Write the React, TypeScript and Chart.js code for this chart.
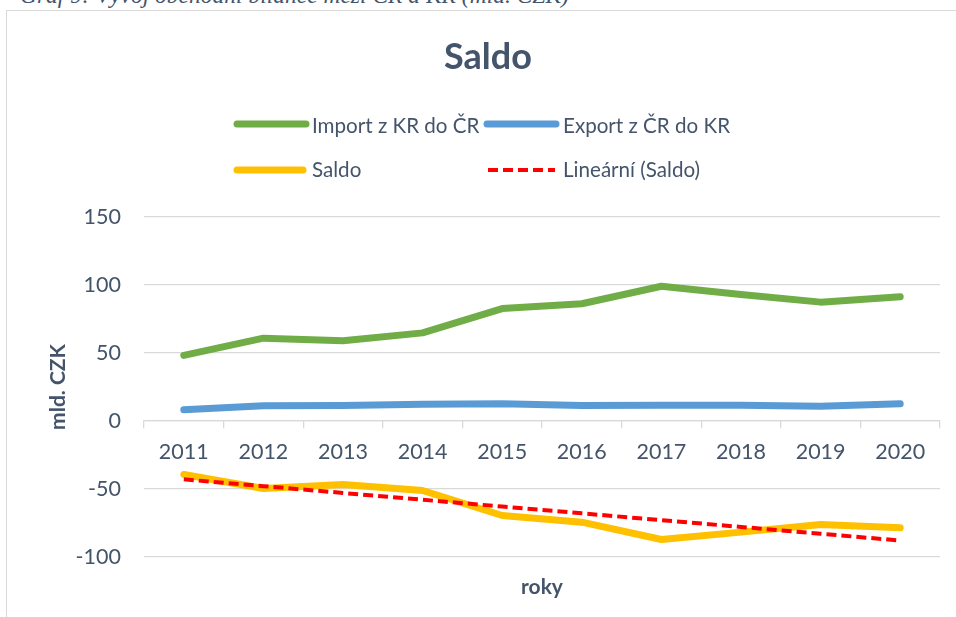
import React, { useEffect, useRef } from "react";
import { Chart, registerables } from "chart.js";

Chart.register(...registerables);

const years = ["2011", "2012", "2013", "2014", "2015", "2016", "2017", "2018", "2019", "2020"];
const importKR = [48.2, 60.9, 59.0, 64.8, 82.7, 86.2, 99.1, 93.0, 87.4, 91.3];
const exportCR = [8.2, 11.2, 11.4, 12.4, 12.6, 11.4, 11.6, 11.6, 10.9, 12.6];
const saldo = [-39.3, -49.6, -46.7, -51.1, -69.5, -74.4, -87.1, -81.7, -76.1, -78.5];
const trendSaldo = [-42.9, -47.9, -52.9, -57.9, -62.9, -67.9, -72.9, -77.9, -82.9, -87.9];
const yTicks = [-100, -50, 0, 50, 100, 150];

const TEXT = "#44546A";
const GRID = "#D9D9D9";
const FONT = "Lato";

const overlayPlugin = {
  id: "overlay",
  afterDraw(chart: any) {
    const ctx = chart.ctx as CanvasRenderingContext2D;
    ctx.save();
    // Title
    ctx.fillStyle = TEXT;
    ctx.font = `bold 36px ${FONT}`;
    ctx.textAlign = "center";
    ctx.textBaseline = "alphabetic";
    ctx.fillText("Saldo", 488, 69);

    // Legend (2 columns x 2 rows)
    const slots = [
      { i: 0, x: 237, y: 124, len: 69, ty: 132.5 },
      { i: 1, x: 487, y: 124, len: 69, ty: 132.5 },
      { i: 2, x: 237, y: 170, len: 66, ty: 176.5 },
      { i: 3, x: 488, y: 170, len: 67, ty: 176.5 },
    ];
    const dsList = chart.data.datasets;
    slots.forEach((s) => {
      const ds = dsList[s.i];
      ctx.save();
      ctx.strokeStyle = ds.borderColor;
      ctx.lineWidth = ds.borderDash ? 4 : 7;
      ctx.lineCap = ds.borderDash ? "butt" : "round";
      if (ds.borderDash) ctx.setLineDash(ds.borderDash);
      ctx.beginPath();
      ctx.moveTo(s.x, s.y);
      ctx.lineTo(s.x + s.len, s.y);
      ctx.stroke();
      ctx.restore();
      ctx.fillStyle = TEXT;
      ctx.font = `20.6px ${FONT}`;
      ctx.textAlign = "left";
      ctx.textBaseline = "alphabetic";
      ctx.fillText(ds.label, s.i % 2 === 0 ? 312 : 563, s.ty);
    });

    // X axis title
    ctx.font = `bold 21px ${FONT}`;
    ctx.textAlign = "center";
    ctx.textBaseline = "middle";
    ctx.fillText("roky", (chart.chartArea.left + chart.chartArea.right) / 2, 587);
    ctx.restore();
  },
};

export default function App() {
  const ref = useRef<HTMLCanvasElement | null>(null);

  useEffect(() => {
    if (!ref.current) return;
    const chart = new Chart(ref.current, {
      type: "line",
      data: {
        labels: years,
        datasets: [
          {
            label: "Import z KR do ČR",
            data: importKR,
            borderColor: "#70AD47",
            backgroundColor: "#70AD47",
            borderWidth: 7,
            order: 3,
          },
          {
            label: "Export z ČR do KR",
            data: exportCR,
            borderColor: "#5B9BD5",
            backgroundColor: "#5B9BD5",
            borderWidth: 7,
            order: 2,
          },
          {
            label: "Saldo",
            data: saldo,
            borderColor: "#FFC000",
            backgroundColor: "#FFC000",
            borderWidth: 7,
            order: 1,
          },
          {
            label: "Lineární (Saldo)",
            data: trendSaldo,
            borderColor: "#FF0000",
            backgroundColor: "#FF0000",
            borderWidth: 4,
            borderDash: [10, 5],
            borderCapStyle: "butt",
            order: 0,
          },
        ] as any,
      },
      options: {
        animation: false,
        responsive: false,
        maintainAspectRatio: false,
        layout: { padding: { left: 42, right: 16, top: 217, bottom: 60 } },
        elements: {
          point: { radius: 0, hoverRadius: 0 },
          line: { tension: 0, borderCapStyle: "round", borderJoinStyle: "round" },
        },
        plugins: {
          legend: { display: false },
          title: { display: false },
          tooltip: { enabled: false },
        },
        scales: {
          x: {
            type: "category",
            position: { y: 0 } as any,
            offset: true,
            grid: {
              display: true,
              offset: true,
              drawOnChartArea: false,
              drawTicks: true,
              tickLength: 7,
              color: GRID,
              lineWidth: 1.3,
            },
            border: { display: true, color: GRID, width: 1.3 },
            ticks: {
              color: TEXT,
              font: { family: FONT, size: 21.5 },
              padding: 11,
              maxRotation: 0,
              autoSkip: false,
            },
          },
          y: {
            type: "linear",
            min: -100,
            max: 150,
            afterBuildTicks: (scale: any) => {
              scale.ticks = yTicks.map((v) => ({ value: v }));
            },
            afterFit: (scale: any) => {
              scale.width = 102;
            },
            grid: { color: GRID, lineWidth: 1.3, drawTicks: false },
            border: { display: false },
            ticks: {
              color: TEXT,
              font: { family: FONT, size: 21.5 },
              padding: 23,
              callback: (v: any) => String(v),
            },
            title: {
              display: true,
              text: "mld. CZK",
              color: TEXT,
              font: { family: FONT, size: 21, weight: "bold" },
              padding: { top: 4, bottom: 4 },
            },
          },
        },
      },
      plugins: [overlayPlugin],
    });
    return () => chart.destroy();
  }, []);

  return (
    <div
      style={{
        position: "absolute",
        left: 0,
        top: 0,
        width: 956,
        height: 617,
        overflow: "hidden",
        background: "#ffffff",
      }}
    >
      <div
        style={{
          position: "absolute",
          left: 20,
          top: -16,
          fontFamily: "'Liberation Serif', serif",
          fontStyle: "italic",
          fontSize: 23.5,
          lineHeight: "23.5px",
          color: "#44546A",
          whiteSpace: "nowrap",
        }}
      >
        Graf 9: Vývoj obchodní bilance mezi ČR a KR (mld. CZK)
      </div>
      <div
        style={{
          position: "absolute",
          left: 6,
          top: 10,
          width: 1000,
          height: 700,
          border: "1px solid #D9D9D9",
          boxSizing: "border-box",
        }}
      />
      <canvas
        ref={ref}
        width={956}
        height={617}
        style={{ position: "absolute", left: 0, top: 0, width: 956, height: 617 }}
      />
    </div>
  );
}
